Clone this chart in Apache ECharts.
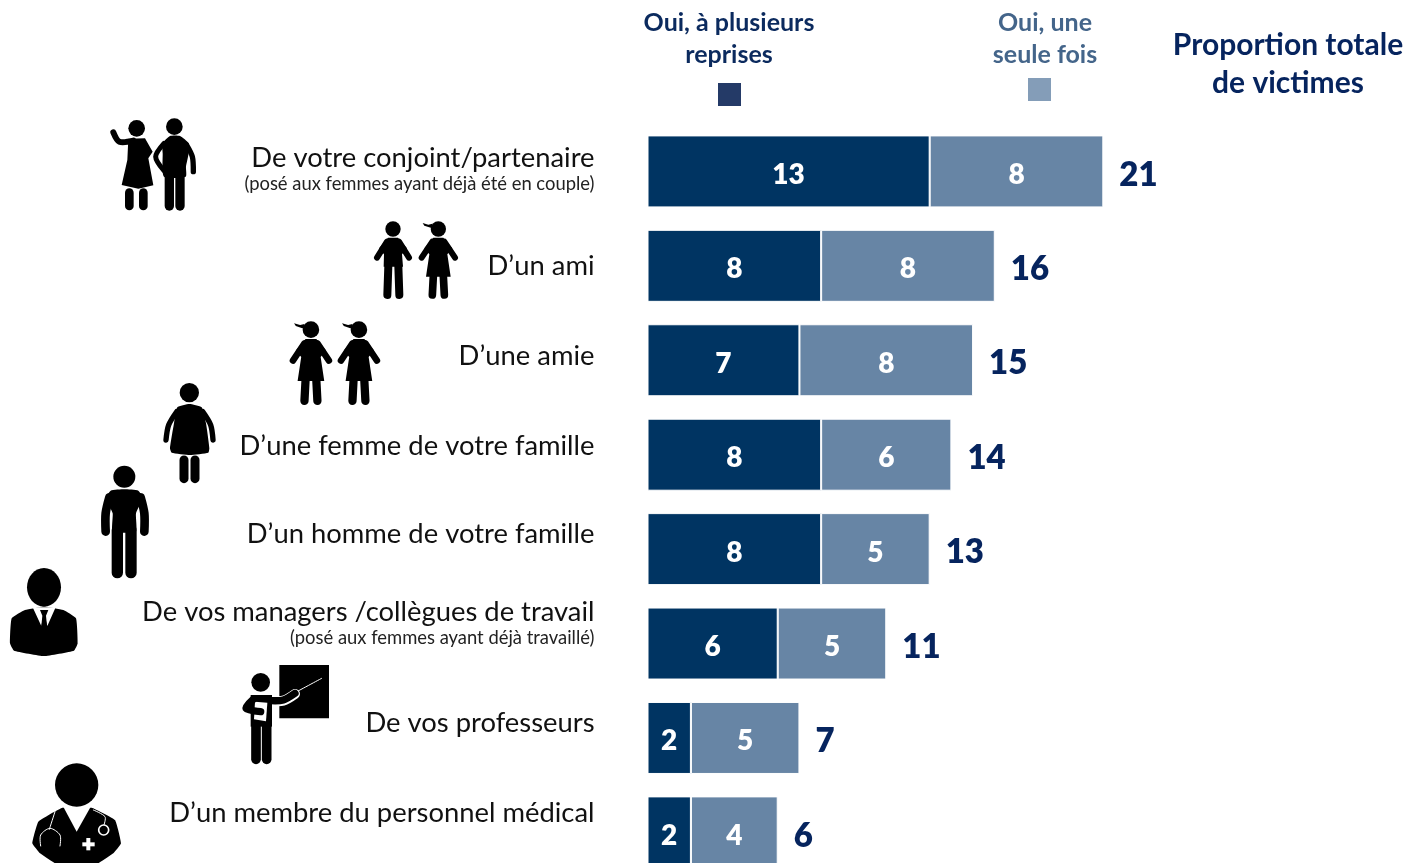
<!DOCTYPE html>
<html><head><meta charset="utf-8">
<style>html,body{margin:0;padding:0;background:#fff}#c{width:1408px;height:863px}</style>
<script src="https://cdn.jsdelivr.net/npm/echarts@6/dist/echarts.min.js"></script>
</head><body><div id="c"></div>
<script>
const categories = ["De votre conjoint/partenaire","D\u2019un ami","D\u2019une amie","D\u2019une femme de votre famille","D\u2019un homme de votre famille","De vos managers /coll\u00e8gues de travail","De vos professeurs","D\u2019un membre du personnel m\u00e9dical"];
const subLabels = ["(pos\u00e9 aux femmes ayant d\u00e9j\u00e0 \u00e9t\u00e9 en couple)","","","","","(pos\u00e9 aux femmes ayant d\u00e9j\u00e0 travaill\u00e9)","",""];
const repeated = [13,8,7,8,8,6,2,2];
const once = [8,8,8,6,5,5,5,4];
const totals = [21,16,15,14,13,11,7,6];
const labelLift = [2,0,9,18,29,38,29,38];
const FONT = 'Lato';
const DARK='#003462', LIGHT='#6785A5', TOTAL='#06245E';

const rich = {s:{fontFamily:FONT,fontSize:18.4,color:'#222',align:'right',lineHeight:24}};
categories.forEach((c,i)=>{
  rich['m'+i]={fontFamily:FONT,fontSize:27.4,color:'#111',align:'right',lineHeight:subLabels[i]?28:32,padding:[0,0,subLabels[i]?0:labelLift[i],0]};
  rich['p'+i]={fontSize:1,lineHeight:labelLift[i]||1,align:'right'};
});

const B='#000',W='#fff';
const head=(x,y,r,f)=>({type:'circle',shape:{cx:x,cy:y,r},style:{fill:f||B}});
const poly=(pts,f,smooth)=>({type:'polygon',shape:{points:pts,smooth:smooth||0},style:{fill:f||B}});
const limb=(pts,w,c)=>({type:'polyline',shape:{points:pts,smooth:0.3},style:{stroke:c||B,lineWidth:w,lineCap:'round',lineJoin:'round',fill:null}});
const rect=(x,y,w,h,f)=>({type:'rect',shape:{x,y,width:w,height:h},style:{fill:f||B}});
const grp=(x,y,s,children)=>({type:'group',x,y,scaleX:s,scaleY:s,children});

function girl(){return [
  head(60,24,23),
  poly([[13,6],[30,11],[42,8],[42,22],[30,18],[18,14]]),
  poly([[45,50],[75,50],[102,82],[87,100],[97,167],[23,167],[33,100],[18,82]]),
  limb([[42,62],[10,110]],18), limb([[78,62],[110,110]],18),
  limb([[45,165],[42,222]],23), limb([[75,165],[78,222]],23)
];}
function boy(){return [
  head(60,24,23),
  poly([[45,50],[75,50],[102,82],[87,100],[90,137],[32,137],[33,100],[18,82]]),
  limb([[42,62],[12,110]],18), limb([[78,62],[108,110]],18),
  limb([[46,135],[43,222]],24), limb([[76,135],[79,222]],24)
];}
const icons=[
  grp(90,110,1/3,[
    head(140,55,25),
    limb([[70,67],[88,95],[130,92]],18),
    poly([[115,86],[165,85],[188,125],[175,145],[190,226],[145,236],[95,225],[112,150]]),
    limb([[118,248],[118,288]],26), limb([[160,248],[160,288]],26),
    head(253,50,25),
    poly([[240,78],[270,78],[296,100],[296,130],[288,170],[287,200],[222,200],[218,130],[218,100]],B,0.2),
    limb([[290,105],[307,140],[310,185]],16),
    limb([[222,100],[197,140],[222,182]],15),
    limb([[238,190],[238,288]],28), limb([[270,190],[270,288]],28)
  ]),
  grp(373,221,1/3,boy()),
  grp(90+985/3,110+333/3,1/3,girl()),
  grp(90+598/3,110+633/3,1.08/3,girl()),
  grp(90+742/3,110+633/3,1.08/3,girl()),
  grp(0,380,1/3,[
    head(568,38,29),
    poly([[568,72],[605,82],[618,130],[628,205],[625,218],[570,225],[515,218],[510,205],[522,130],[532,82]],B,0.15),
    limb([[530,95],[506,135],[498,180]],16), limb([[608,95],[632,135],[639,180]],16),
    limb([[552,240],[552,296]],27), limb([[585,240],[585,296]],27)
  ]),
  grp(0,380,1/3,[
    head(373,290,33),
    poly([[373,328],[415,332],[428,355],[408,400],[408,455],[338,455],[338,400],[318,355],[332,332]],B,0.15),
    limb([[328,352],[317,400],[317,455]],26), limb([[422,352],[433,400],[433,455]],26),
    limb([[352,450],[352,578]],34), limb([[393,450],[393,578]],34)
  ]),
  grp(0,380,1/3,[
    poly([[132,680],[190,690],[228,715],[233,790],[222,812],[132,828],[42,812],[30,790],[35,715],[75,690]],B,0.12),
    poly([[98,682],[167,682],[142,738],[132,700],[124,738]],W),
    poly([[120,690],[145,690],[138,707],[141,738],[124,738],[127,707]]),
    {type:'ellipse',shape:{cx:132,cy:622,rx:51,ry:58},style:{fill:B}}
  ]),
  grp(0,380,1/3,[
    rect(838,855,149,160),
    limb([[885,938],[965,895]],3,W),
    limb([[810,962],[850,962],[885,942]],30,W),
    head(782,907,28),
    rect(752,945,64,95),
    limb([[768,1040],[768,1138]],29), limb([[800,1040],[800,1138]],29),
    limb([[812,962],[850,960],[885,940]],22),
    poly([[765,965],[802,968],[798,1024],[762,1018]],W),
    limb([[760,958],[738,985],[782,995]],22)
  ]),
  grp(0,380,1/3,[
    poly([[97,1390],[115,1325],[187,1283],[275,1283],[345,1320],[363,1390],[340,1420],[290,1452],[170,1452],[120,1420]],B,0.1),
    poly([[187,1275],[230,1355],[275,1275]],W),
    head(230,1215,65),
    limb([[165,1295],[148,1348]],3,W),
    limb([[122,1398],[122,1365],[150,1345],[180,1365],[180,1398]],3,W),
    limb([[280,1290],[315,1310],[312,1335]],3,W),
    {type:'circle',shape:{cx:311,cy:1350,r:15},style:{fill:B,stroke:W,lineWidth:5}},
    rect(259,1374,12,37,W), rect(247,1387,37,12,W)
  ])
];

const hdr=(text,x,y,size,fill)=>({type:'text',x,y,style:{text,fill,font:`700 ${size}px ${FONT}`,textAlign:'center',textVerticalAlign:'middle'}});
const headers=[
  hdr('Oui, \u00e0 plusieurs',729,23,25,'#0B2A5E'), hdr('reprises',729,55,25,'#0B2A5E'),
  hdr('Oui, une',1045,23,25,'#44658A'), hdr('seule fois',1045,55,25,'#44658A'),
  hdr('Proportion totale',1288,45,30,TOTAL), hdr('de victimes',1288,83,30,TOTAL),
  rect(718,83,23,23,'#243A67'), rect(1028,78,23,23,'#849DB8')
];

const chart=echarts.init(document.getElementById('c'),null,{renderer:'canvas'});
const barLabel={show:true,position:'inside',offset:[0,3.5],color:'#fff',fontFamily:FONT,fontWeight:800,fontSize:28};
chart.setOption({
  animation:false,
  backgroundColor:'#fff',
  grid:{left:647.5,top:124.2,width:759.7,height:755.4,containLabel:false,outerBoundsMode:'none'},
  xAxis:{type:'value',min:0,max:35,show:false},
  yAxis:{type:'category',data:categories,inverse:true,
    axisLine:{show:false},axisTick:{show:false},splitLine:{show:false},
    axisLabel:{margin:53,align:'right',rich,
      formatter:(v,i)=> subLabels[i]
        ? `{m${i}|${v}}\n{s|${subLabels[i]}}\n{p${i}|}`
        : `{m${i}|${v}}`}},
  series:[
    {name:'Oui, \u00e0 plusieurs reprises',type:'bar',stack:'t',data:repeated,barWidth:72,
      itemStyle:{color:DARK,borderColor:'#fff',borderWidth:1},label:barLabel},
    {name:'Oui, une seule fois',type:'bar',stack:'t',data:once,barWidth:72,
      itemStyle:{color:LIGHT,borderColor:'#fff',borderWidth:1},label:barLabel},
    {name:'Proportion totale de victimes',type:'scatter',symbolSize:0,itemStyle:{opacity:1},
      data:totals.map((t,i)=>[t,i]),
      label:{show:true,position:'right',distance:16,offset:[0,3.5],formatter:p=>p.value[0],color:TOTAL,fontFamily:FONT,fontWeight:800,fontSize:33}}
  ],
  graphic:{elements:[...headers,...icons]}
});
</script></body></html>
